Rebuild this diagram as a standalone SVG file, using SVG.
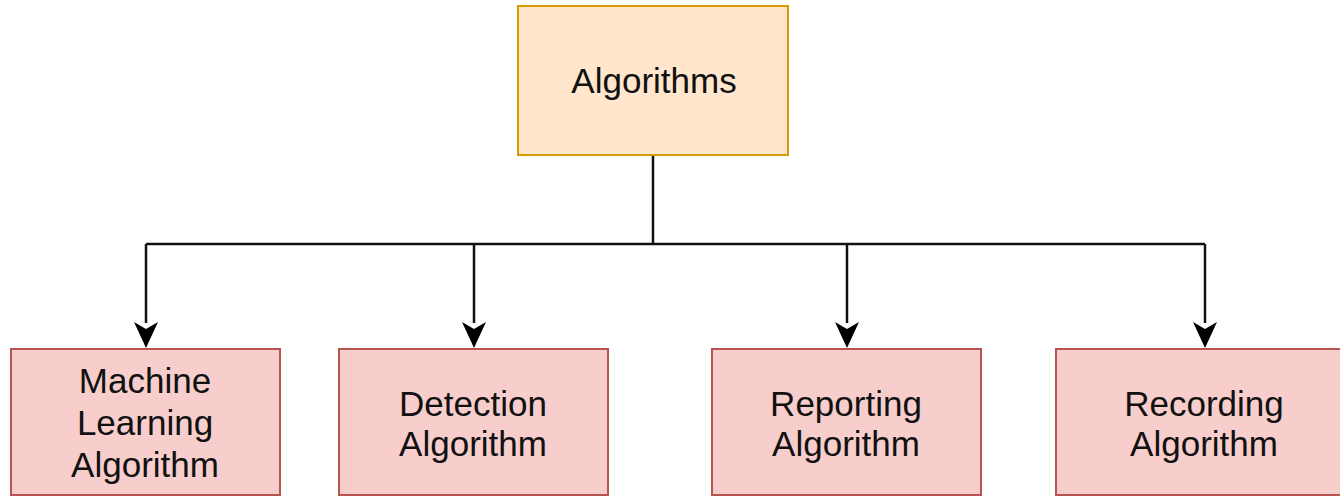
<svg xmlns="http://www.w3.org/2000/svg" width="1340" height="498" viewBox="0 0 1340 498">
<style>
.t{font-family:"Liberation Sans",Arial,sans-serif;font-size:35px;fill:#111;text-anchor:middle}
.root{fill:#ffe6cc;stroke:#d79b00;stroke-width:2}
.leaf{fill:#f8cecc;stroke:#b85450;stroke-width:2}
.c{fill:none;stroke:#111;stroke-width:2.5}
</style>
<defs>
<marker id="ah" markerUnits="userSpaceOnUse" markerWidth="26" markerHeight="28" refX="13" refY="26" orient="auto-start-reverse" viewBox="0 0 26 28">
<path d="M1,0 L13,26 L25,0 L13,7 Z" fill="#000" transform="rotate(0)"/>
</marker>
</defs>
<rect width="1340" height="498" fill="#fff"/>
<g id="connectors">
<path class="c" d="M653,155 V244"/>
<path class="c" d="M146,244 H1205"/>
<path class="c" d="M146,244 V323"/>
<path class="c" d="M474,244 V323"/>
<path class="c" d="M847,244 V323"/>
<path class="c" d="M1205,244 V323"/>
<path d="M134,322 L146,348 L158,322 L146,329 Z" fill="#000"/>
<path d="M462,322 L474,348 L486,322 L474,329 Z" fill="#000"/>
<path d="M835,322 L847,348 L859,322 L847,329 Z" fill="#000"/>
<path d="M1193,322 L1205,348 L1217,322 L1205,329 Z" fill="#000"/>
</g>
<g id="algorithms">
<rect class="root" x="518" y="6" width="270" height="149"/>
<text class="t" x="654" y="93">Algorithms</text>
</g>
<g id="ml">
<rect class="leaf" x="11" y="349" width="269" height="146"/>
<text class="t" x="145" y="393">Machine</text>
<text class="t" x="145" y="435">Learning</text>
<text class="t" x="145" y="477">Algorithm</text>
</g>
<g id="detection">
<rect class="leaf" x="339" y="349" width="269" height="146"/>
<text class="t" x="473" y="416">Detection</text>
<text class="t" x="473" y="456">Algorithm</text>
</g>
<g id="reporting">
<rect class="leaf" x="712" y="349" width="269" height="146"/>
<text class="t" x="846" y="416">Reporting</text>
<text class="t" x="846" y="456">Algorithm</text>
</g>
<g id="recording">
<rect class="leaf" x="1056" y="349" width="300" height="146"/>
<text class="t" x="1204" y="416">Recording</text>
<text class="t" x="1204" y="456">Algorithm</text>
</g>
</svg>
